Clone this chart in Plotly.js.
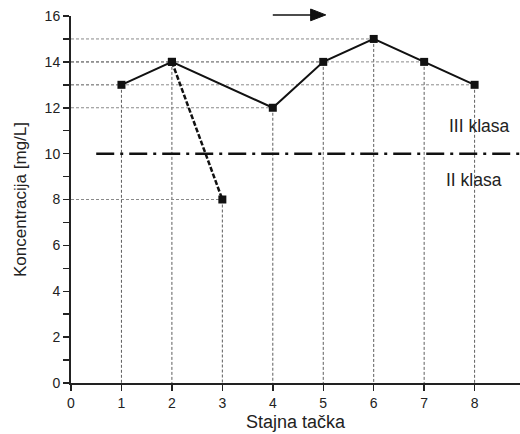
<!DOCTYPE html>
<html><head><meta charset="utf-8">
<script src="https://cdn.plot.ly/plotly-3.0.1.min.js"></script>
<style>html,body{margin:0;padding:0;background:#fff}#c{width:520px;height:434px}</style>
</head><body><div id="c"></div>
<script>
// Data
const stationsMain = [1, 2, 4, 5, 6, 7, 8];
const concMain = [13, 14, 12, 14, 15, 14, 13];
const stationsBranch = [2, 3];
const concBranch = [14, 8];
const classLimit = 10;
const classLimitX = [0.5, 8.9];
const flowArrowX = [4.0, 5.05];
const labelUpper = "III klasa";
const labelLower = "II klasa";
const xTitle = "Stajna tačka";
const yTitle = "Koncentracija [mg/L]";

const font = "Liberation Sans, Arial, sans-serif";
const traces = [];

// drop lines (horizontal to y axis, vertical to x axis)
const allX = stationsMain.concat([stationsBranch[1]]);
const allY = concMain.concat([concBranch[1]]);
allX.forEach((x, i) => {
  const y = allY[i];
  traces.push({x: [0, x], y: [y, y], mode: 'lines', hoverinfo: 'skip', showlegend: false,
    line: {color: '#8a8a8a', width: 1, dash: '3px,2px'}});
  traces.push({x: [x, x], y: [y, 0], mode: 'lines', hoverinfo: 'skip', showlegend: false,
    line: {color: '#333', width: 0.8, dash: '3px,2px'}});
});

// class limit
traces.push({x: classLimitX, y: [classLimit, classLimit], mode: 'lines', showlegend: false,
  line: {color: '#111', width: 2.5, dash: '18px,6px,3px,6px'}});

// branch
traces.push({x: stationsBranch, y: concBranch, mode: 'lines+markers', showlegend: false,
  line: {color: '#111', width: 2.5, dash: '5px,2px'},
  marker: {symbol: 'square', size: 8, color: '#111'}});
// main
traces.push({x: stationsMain, y: concMain, mode: 'lines+markers', showlegend: false,
  line: {color: '#111', width: 2},
  marker: {symbol: 'square', size: 8, color: '#111'}});

// flow direction arrow (above plot area, x in data units, y in paper units)
const ay = 1.003, headLen = 0.3, headHalf = 0.016;
const xHeadBase = flowArrowX[1] - headLen;
const shapes = [
  {type: 'line', xref: 'x', yref: 'paper', x0: flowArrowX[0], x1: xHeadBase + 0.05, y0: ay, y1: ay,
   line: {color: '#111', width: 1.5}},
  {type: 'path', xref: 'x', yref: 'paper',
   path: `M ${xHeadBase},${ay + headHalf} L ${flowArrowX[1]},${ay} L ${xHeadBase},${ay - headHalf} Z`,
   fillcolor: '#111', line: {color: '#111', width: 1}}
];

const layout = {
  width: 520, height: 434,
  margin: {l: 71, r: 0, t: 16, b: 51},
  paper_bgcolor: '#fff', plot_bgcolor: '#fff',
  font: {family: font, color: '#222'},
  showlegend: false,
  shapes: shapes,
  xaxis: {range: [0, 8.9], tickvals: [0,1,2,3,4,5,6,7,8], ticks: 'outside', ticklen: 6, tickwidth: 1.5,
    tickcolor: '#222', showline: true, linecolor: '#222', linewidth: 2, showgrid: false, zeroline: false,
    tickfont: {size: 14, family: font, color: '#222'},
    title: {text: xTitle, font: {size: 18, family: font, color: '#222'}, standoff: 6}},
  yaxis: {range: [0, 16], tickvals: [0,1,2,3,4,5,6,7,8,9,10,11,12,13,14,15,16],
    ticktext: ['0','','2','','4','','6','','8','','10','','12','','14','','16'],
    ticks: 'outside', ticklen: 6, tickwidth: 1.5, tickcolor: '#222',
    showline: true, linecolor: '#222', linewidth: 2, showgrid: false, zeroline: false,
    tickfont: {size: 14, family: font, color: '#222'},
    title: {text: yTitle, font: {size: 17, family: font, color: '#222'}, standoff: 14}},
  annotations: [
    {x: 8.1, y: 11.2, xref: 'x', yref: 'y', text: labelUpper, showarrow: false,
     font: {size: 17.5, family: font, color: '#222'}},
    {x: 7.98, y: 8.85, xref: 'x', yref: 'y', text: labelLower, showarrow: false,
     font: {size: 17.5, family: font, color: '#222'}}
  ]
};
Plotly.newPlot('c', traces, layout, {displayModeBar: false, staticPlot: true});
</script></body></html>
